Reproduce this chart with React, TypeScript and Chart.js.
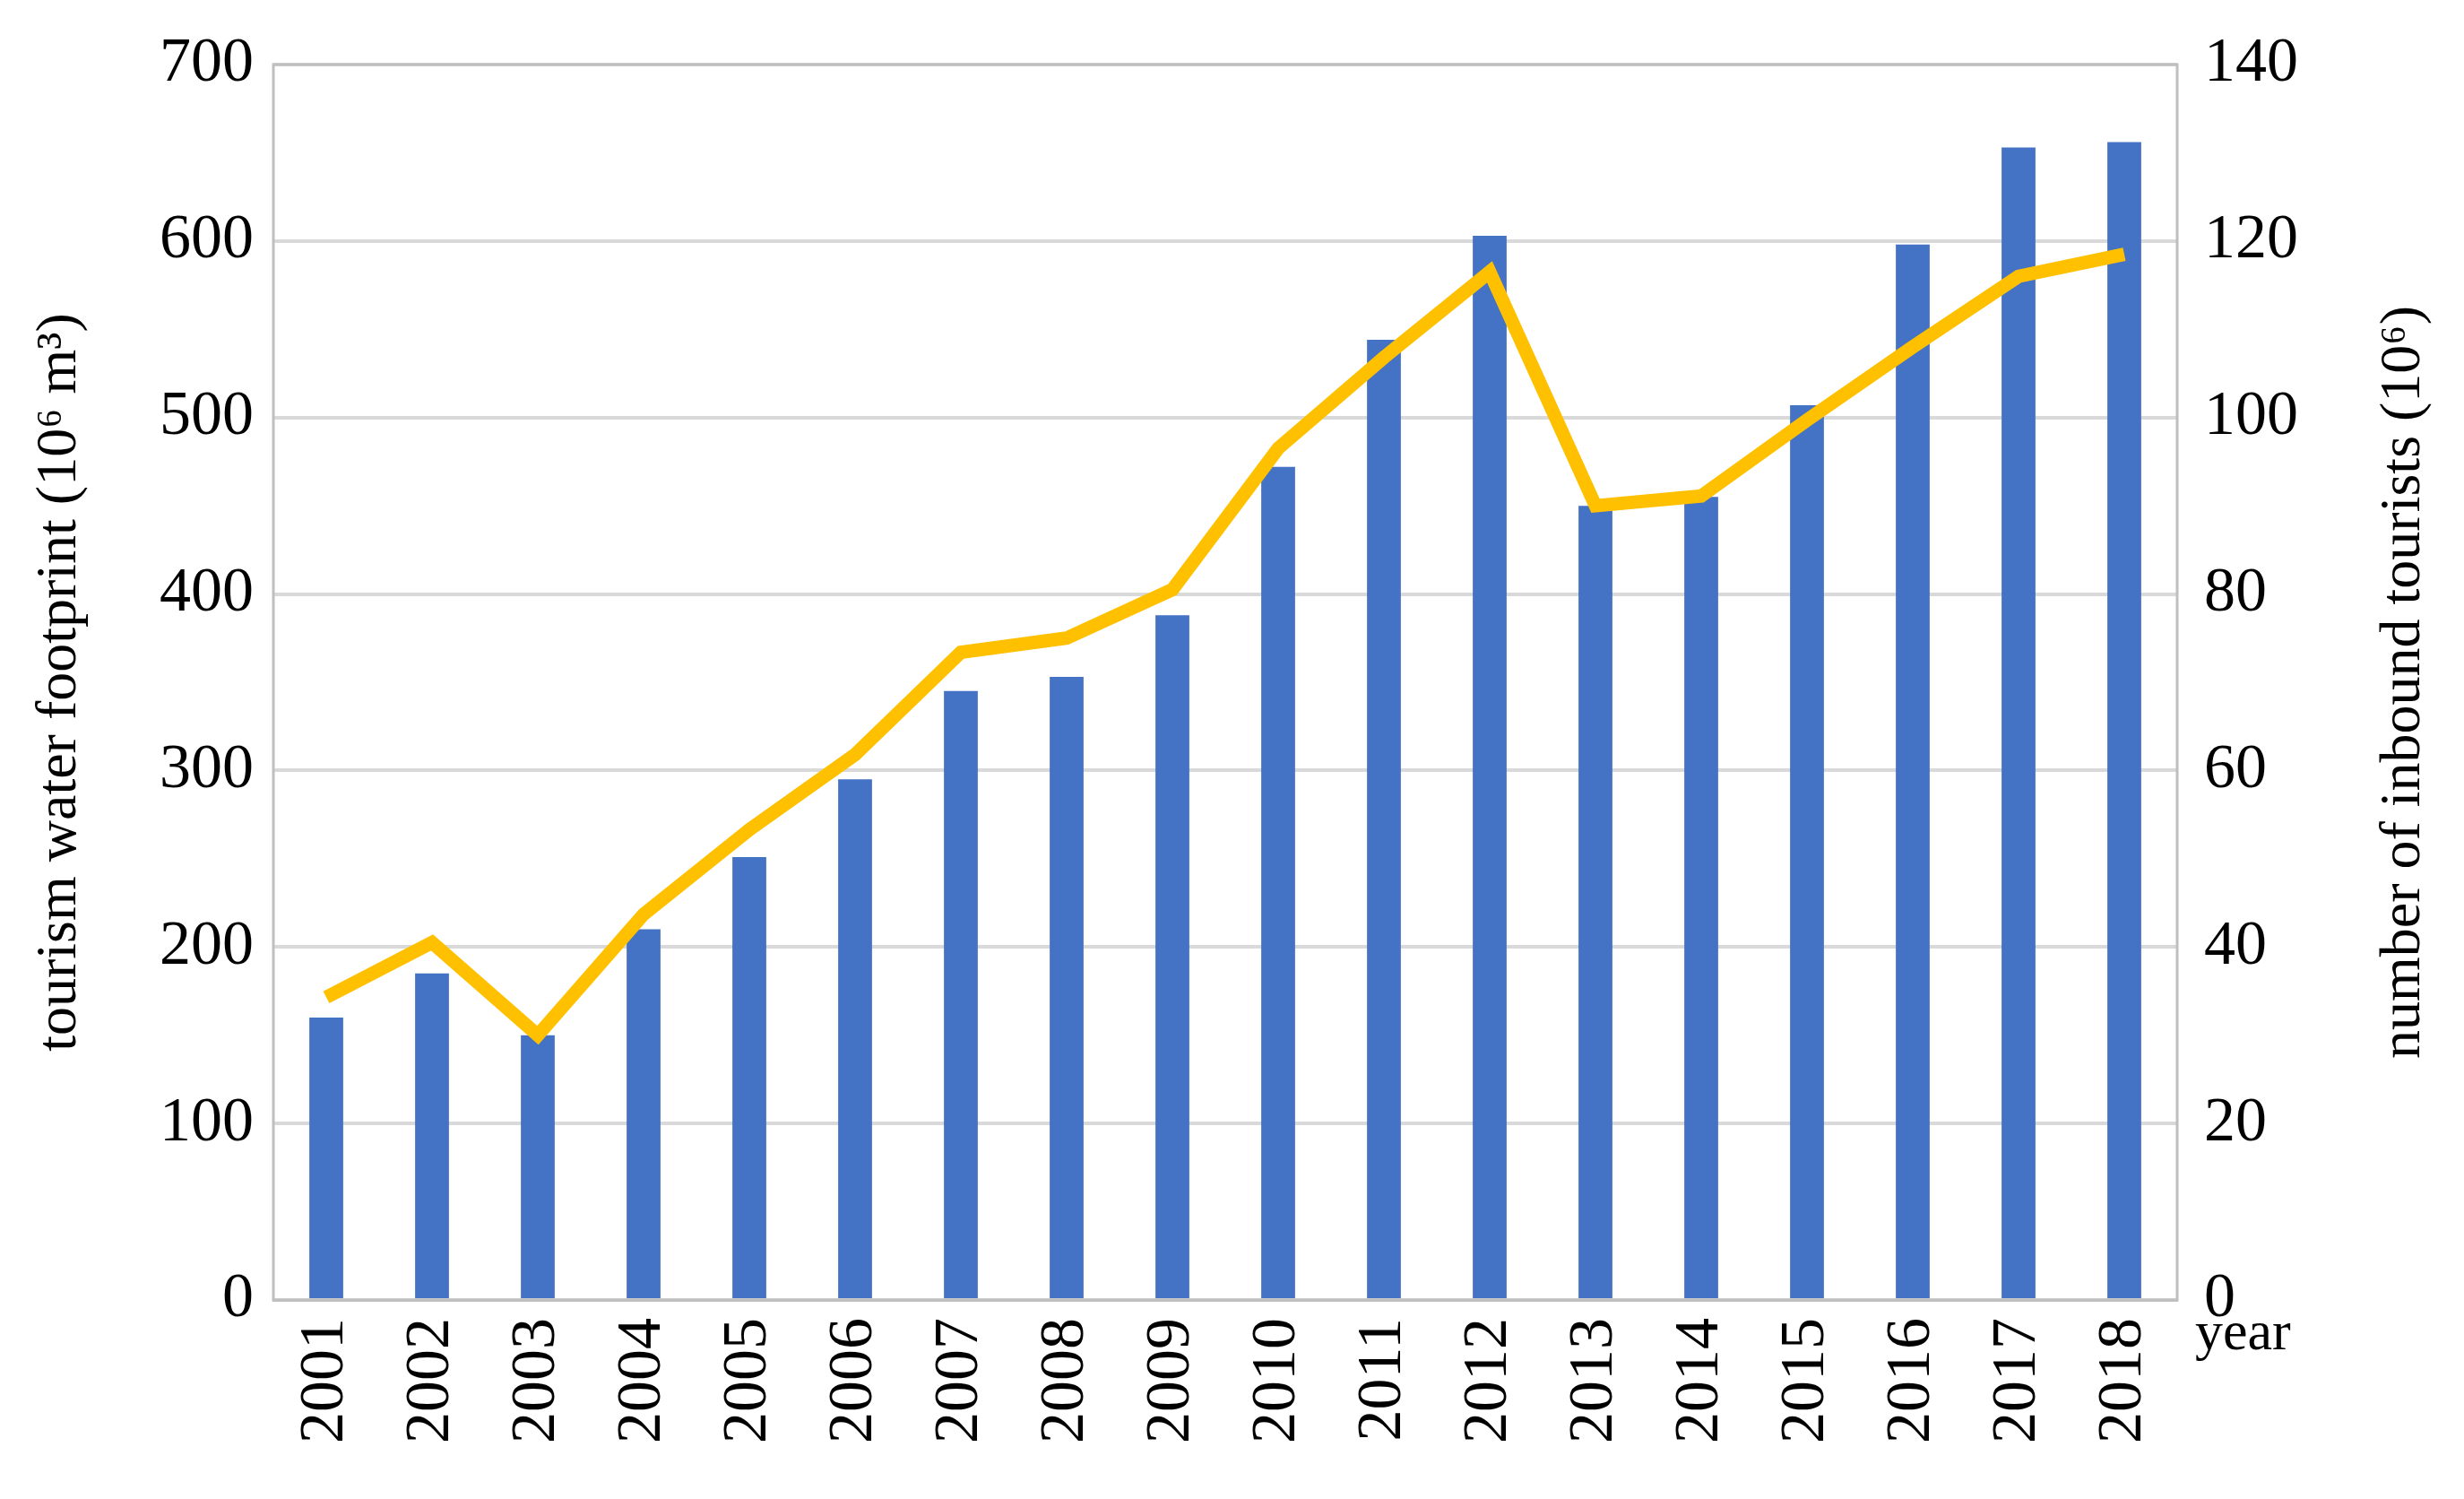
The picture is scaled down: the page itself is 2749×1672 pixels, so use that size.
import React, { useEffect, useRef } from "react";
import { Chart, registerables } from "chart.js";
Chart.register(...registerables);

const years = ["2001","2002","2003","2004","2005","2006","2007","2008","2009","2010","2011","2012","2013","2014","2015","2016","2017","2018"];
const waterFootprint = [160,185,150,210,251,295,345,353,388,472,544,603,450,455,507,598,653,656];
const tourists = [34.3,40.5,30,43.7,53.3,61.8,73.4,75,80.5,96.5,106.8,116.5,90,91.1,99.7,108,116,118.5];
const leftTitle = "tourism water footprint (10⁶ m³)";
const rightTitle = "number of inbound tourists (10⁶)";

const FONT = "'Liberation Serif', 'Times New Roman', serif";

export default function App() {
  const ref = useRef<HTMLCanvasElement>(null);
  useEffect(() => {
    document.body.style.margin = "0";
    const framePlugin = {
      id: "frame",
      afterDraw(chart: any) {
        const { ctx, chartArea: a } = chart;
        ctx.save();
        ctx.strokeStyle = "#bfbfbf";
        ctx.lineWidth = 3;
        ctx.strokeRect(a.left, a.top, a.right - a.left, a.bottom - a.top);
        ctx.fillStyle = "#000";
        ctx.font = `62px ${FONT}`;
        ctx.textAlign = "left";
        ctx.textBaseline = "top";
        ctx.fillText("year", a.right + 20, a.bottom + 8);
        const cy = (a.top + a.bottom) / 2;
        ctx.font = `64px ${FONT}`;
        ctx.textAlign = "center";
        ctx.textBaseline = "middle";
        for (const [x, t] of [[67, leftTitle], [2682, rightTitle]] as [number, string][]) {
          ctx.save();
          ctx.translate(x, cy);
          ctx.rotate(-Math.PI / 2);
          ctx.fillText(t, 0, 0);
          ctx.restore();
        }
        ctx.restore();
      },
    };
    const chart = new Chart(ref.current!, {
      type: "bar",
      data: {
        labels: years,
        datasets: [
          { type: "line", data: tourists, yAxisID: "y1", borderColor: "#FFC000", borderWidth: 15, pointRadius: 0, tension: 0, order: 0 } as any,
          { type: "bar", data: waterFootprint, yAxisID: "y", backgroundColor: "#4472C4", categoryPercentage: 1, barPercentage: 0.32, order: 1 },
        ],
      },
      options: {
        animation: false,
        responsive: false,
        layout: { padding: { top: 62, right: 0, left: 0, bottom: 0 } },
        plugins: { legend: { display: false }, tooltip: { enabled: false } },
        scales: {
          x: {
            grid: { display: false },
            border: { color: "#bfbfbf", width: 3 },
            ticks: { color: "#000", font: { family: FONT, size: 70 }, maxRotation: 90, minRotation: 90, padding: 12 },
            afterFit(s: any) { s.height = 222; },
          },
          y: {
            min: 0, max: 700,
            ticks: { stepSize: 100, color: "#000", font: { family: FONT, size: 70 }, padding: 22 },
            grid: { color: "#d9d9d9", lineWidth: 4, drawTicks: false },
            border: { display: false },
            afterFit(s: any) { s.width = 305; },
          },
          y1: {
            position: "right",
            min: 0, max: 140,
            ticks: { stepSize: 20, color: "#000", font: { family: FONT, size: 70 }, padding: 30 },
            grid: { display: false, drawTicks: false },
            border: { display: false },
            afterFit(s: any) { s.width = 320; },
          },
        },
      },
      plugins: [framePlugin],
    });
    return () => chart.destroy();
  }, []);
  return <canvas ref={ref} width={2749} height={1672} style={{ display: "block", width: 2749, height: 1672 }} />;
}
